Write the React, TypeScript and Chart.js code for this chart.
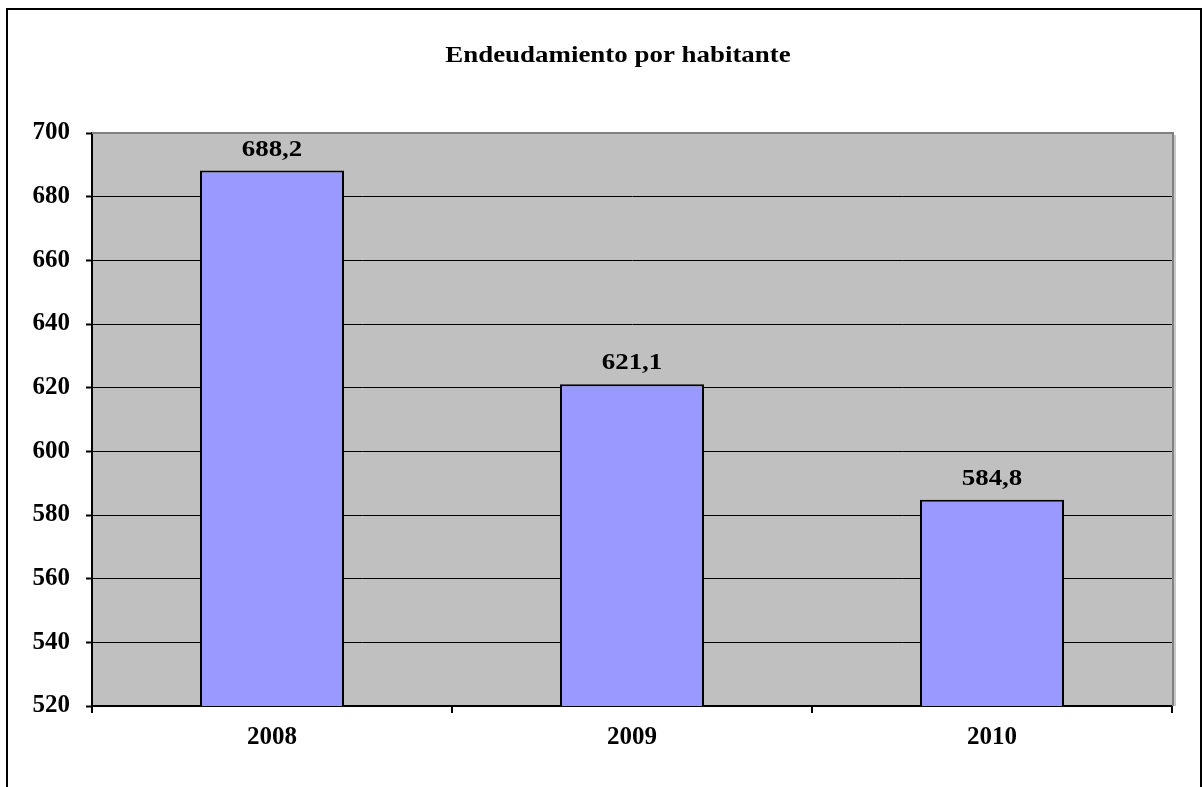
import React, { useEffect, useRef } from "react";
import { Chart, registerables } from "chart.js";

Chart.register(...registerables);

const TITLE = "Endeudamiento por habitante";
const YEARS = ["2008", "2009", "2010"];
const VALUES = [688.2, 621.1, 584.8];
const VALUE_LABELS = ["688,2", "621,1", "584,8"];
const Y_MIN = 520;
const Y_MAX = 700;
const Y_STEP = 20;

const FONT = "'Liberation Serif', serif";
const STRETCH = 1.17;

export default function App() {
  const ref = useRef<HTMLCanvasElement | null>(null);

  useEffect(() => {
    document.body.style.margin = "0";
    const canvas = ref.current;
    if (!canvas) return;

    const decor = {
      id: "decor",
      beforeDraw(chart: any) {
        const { ctx, chartArea } = chart;
        ctx.save();
        ctx.fillStyle = "#ffffff";
        ctx.fillRect(0, 0, chart.width, chart.height);
        ctx.fillStyle = "#c0c0c0";
        ctx.fillRect(chartArea.left, chartArea.top, chartArea.right - chartArea.left, chartArea.bottom - chartArea.top);
        ctx.restore();
      },
      afterDraw(chart: any) {
        const { ctx, chartArea } = chart;
        ctx.save();
        ctx.strokeStyle = "#c8c8c8";
        ctx.lineWidth = 2;
        ctx.beginPath();
        ctx.moveTo(chartArea.right + 3, chartArea.top + 2);
        ctx.lineTo(chartArea.right + 3, chartArea.bottom);
        ctx.stroke();
        ctx.strokeStyle = "#808080";
        ctx.beginPath();
        ctx.moveTo(chartArea.left, chartArea.top);
        ctx.lineTo(chartArea.right + 1, chartArea.top);
        ctx.lineTo(chartArea.right + 1, chartArea.bottom);
        ctx.stroke();
        ctx.strokeStyle = "#000000";
        ctx.lineWidth = 2;
        ctx.strokeRect(7, 9, 1194, 790);
        ctx.fillStyle = "#000000";
        ctx.font = `bold 23px ${FONT}`;
        ctx.textAlign = "center";
        ctx.textBaseline = "middle";
        ctx.translate(618, 56);
        ctx.scale(STRETCH, 1);
        ctx.fillText(TITLE, 0, 0);
        ctx.restore();

        const meta = chart.getDatasetMeta(0);
        ctx.save();
        ctx.fillStyle = "#000000";
        ctx.font = `bold 23px ${FONT}`;
        ctx.textAlign = "center";
        ctx.textBaseline = "alphabetic";
        meta.data.forEach((bar: any, i: number) => {
          ctx.save();
          ctx.translate(bar.x, bar.y - 15);
          ctx.scale(STRETCH, 1);
          ctx.fillText(VALUE_LABELS[i], 0, 0);
          ctx.restore();
        });
        ctx.restore();
      },
    };

    const chart = new Chart(canvas, {
      type: "bar",
      data: {
        labels: YEARS,
        datasets: [
          {
            data: VALUES,
            backgroundColor: "#9999ff",
            borderColor: "#000000",
            borderWidth: 2,
            categoryPercentage: 1,
            barPercentage: 0.4,
          },
        ],
      },
      options: {
        responsive: false,
        animation: false,
        layout: { padding: { top: 133, right: 30, left: 0, bottom: 0 } },
        plugins: {
          legend: { display: false },
          title: { display: false },
          tooltip: { enabled: false },
        },
        scales: {
          x: {
            afterFit: (scale: any) => {
              scale.height = 81;
            },
            grid: {
              display: true,
              drawOnChartArea: false,
              drawTicks: true,
              tickLength: 7,
              color: "#000000",
              lineWidth: 2,
              offset: true,
            },
            border: { color: "#000000", width: 2 },
            ticks: {
              color: "#000000",
              padding: 10,
              font: { family: FONT, size: 25, weight: "bold" },
            },
          },
          y: {
            min: Y_MIN,
            max: Y_MAX,
            afterFit: (scale: any) => {
              scale.width = 92;
            },
            grid: {
              color: "#000000",
              lineWidth: 1,
              drawTicks: true,
              tickLength: 6,
              tickColor: "#000000",
              tickWidth: 2,
            },
            border: { color: "#000000", width: 2 },
            ticks: {
              stepSize: Y_STEP,
              color: "#000000",
              padding: 16,
              font: { family: FONT, size: 25, weight: "bold" },
            },
          },
        },
      },
      plugins: [decor],
    } as any);

    return () => chart.destroy();
  }, []);

  return <canvas ref={ref} width={1202} height={787} style={{ display: "block" }} />;
}
